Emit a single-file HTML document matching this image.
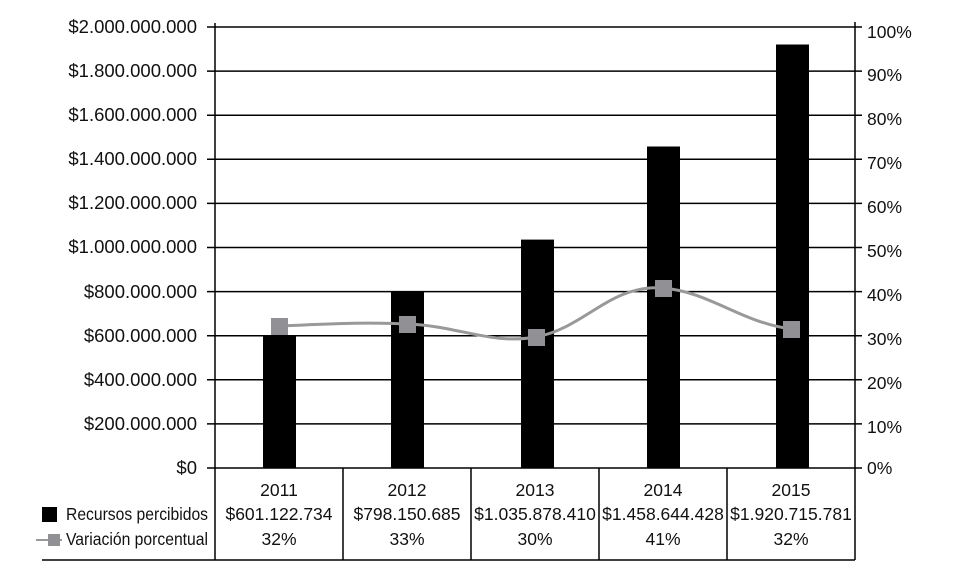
<!DOCTYPE html>
<html><head><meta charset="utf-8"><style>
body{margin:0;background:#fff}
svg{display:block}
text{font-family:"Liberation Sans",sans-serif;font-size:17.5px;fill:#111}
.l{font-size:18.5px}
</style></head><body>
<svg width="962" height="579" viewBox="0 0 962 579">
<g stroke="#000" stroke-width="1.5">
<line x1="207" y1="27" x2="862" y2="27"/>
<line x1="207" y1="71.1" x2="862" y2="71.1"/>
<line x1="207" y1="115.2" x2="862" y2="115.2"/>
<line x1="207" y1="159.3" x2="862" y2="159.3"/>
<line x1="207" y1="203.4" x2="862" y2="203.4"/>
<line x1="207" y1="247.5" x2="862" y2="247.5"/>
<line x1="207" y1="291.6" x2="862" y2="291.6"/>
<line x1="207" y1="335.7" x2="862" y2="335.7"/>
<line x1="207" y1="379.8" x2="862" y2="379.8"/>
<line x1="207" y1="423.9" x2="862" y2="423.9"/>
<line x1="207" y1="468" x2="862" y2="468"/>
<line x1="215" y1="23" x2="215" y2="560"/>
<line x1="855" y1="22" x2="855" y2="560"/>
<line x1="343" y1="468" x2="343" y2="560"/>
<line x1="471" y1="468" x2="471" y2="560"/>
<line x1="599" y1="468" x2="599" y2="560"/>
<line x1="727" y1="468" x2="727" y2="560"/>
<line x1="42" y1="560" x2="855" y2="560"/>
</g>
<g fill="#000">
<rect x="263" y="335.5" width="33" height="132.5"/>
<rect x="391" y="292" width="33" height="176"/>
<rect x="521" y="239.6" width="33" height="228.4"/>
<rect x="647" y="146.5" width="33" height="321.5"/>
<rect x="776" y="44.5" width="33" height="423.5"/>
</g>
<path d="M279,326 C330,324 360,322 407,324 C460,326 490,345 536,337 C585,328 610,284 663,288 C710,292 740,322 791,329" fill="none" stroke="#999" stroke-width="3"/>
<g fill="#909095">
<rect x="271" y="318" width="17" height="17"/>
<rect x="399" y="316" width="17" height="17"/>
<rect x="528" y="329" width="17" height="17"/>
<rect x="655" y="280" width="17" height="17"/>
<rect x="783" y="321" width="17" height="17"/>
</g>
<g text-anchor="end" class="l">
<text class="l" x="197" y="33">$2.000.000.000</text>
<text class="l" x="197" y="77">$1.800.000.000</text>
<text class="l" x="197" y="121">$1.600.000.000</text>
<text class="l" x="197" y="165">$1.400.000.000</text>
<text class="l" x="197" y="209">$1.200.000.000</text>
<text class="l" x="197" y="253">$1.000.000.000</text>
<text class="l" x="197" y="298">$800.000.000</text>
<text class="l" x="197" y="342">$600.000.000</text>
<text class="l" x="197" y="386">$400.000.000</text>
<text class="l" x="197" y="430">$200.000.000</text>
<text class="l" x="197" y="474">$0</text>
</g>
<text x="66" y="520" textLength="142" lengthAdjust="spacingAndGlyphs">Recursos percibidos</text>
<text x="66" y="545" textLength="142" lengthAdjust="spacingAndGlyphs">Variación porcentual</text>
<g>
<text x="867" y="38">100%</text>
<text x="867" y="81">90%</text>
<text x="867" y="125">80%</text>
<text x="867" y="169">70%</text>
<text x="867" y="213">60%</text>
<text x="867" y="257">50%</text>
<text x="867" y="301">40%</text>
<text x="867" y="345">30%</text>
<text x="867" y="389">20%</text>
<text x="867" y="433">10%</text>
<text x="867" y="474">0%</text>
</g>
<g text-anchor="middle">
<text x="279" y="496">2011</text><text x="407" y="496">2012</text><text x="535" y="496">2013</text><text x="663" y="496">2014</text><text x="791" y="496">2015</text>
<text x="279" y="520">$601.122.734</text><text x="407" y="520">$798.150.685</text><text x="535" y="520">$1.035.878.410</text><text x="663" y="520">$1.458.644.428</text><text x="791" y="520">$1.920.715.781</text>
<text x="279" y="545">32%</text><text x="407" y="545">33%</text><text x="535" y="545">30%</text><text x="663" y="545">41%</text><text x="791" y="545">32%</text>
</g>
<rect x="42" y="507" width="15" height="15" fill="#000"/>
<line x1="36" y1="540" x2="62" y2="540" stroke="#999" stroke-width="2"/>
<rect x="48" y="534" width="12" height="12" fill="#909095"/>
</svg>
</body></html>
